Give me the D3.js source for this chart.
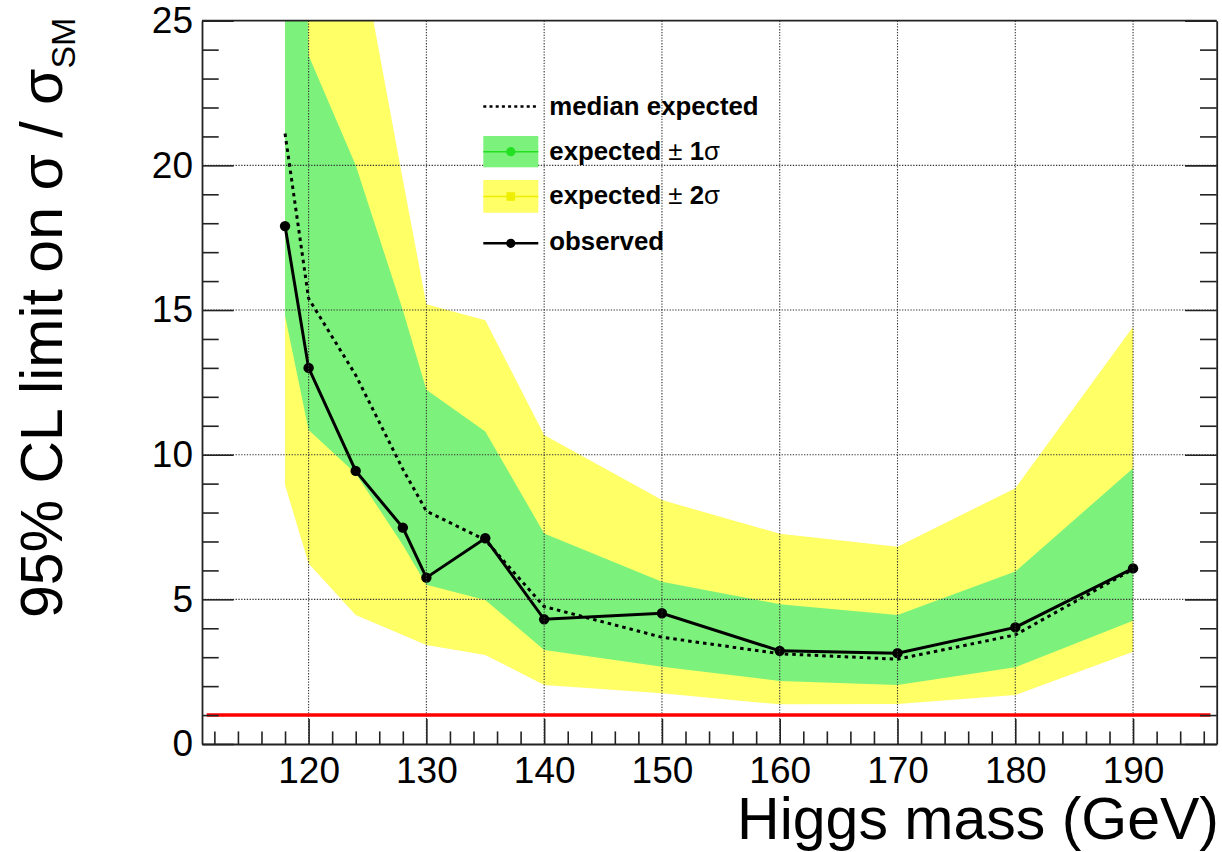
<!DOCTYPE html>
<html>
<head>
<meta charset="utf-8">
<script src="https://cdn.jsdelivr.net/npm/d3@7"></script>
<style>
  html, body { margin: 0; padding: 0; background: #fff; }
  svg { display: block; font-family: "Liberation Sans", Arial, Helvetica, sans-serif; }
</style>
</head>
<body>
<svg id="chart" width="1222" height="852"></svg>
<script>
// Higgs mass points (GeV)
const mass = [118, 120, 124, 128, 130, 135, 140, 150, 160, 170, 180, 190];
// 95% CL limits on sigma / sigma_SM
const observed = [17.9, 13.0, 9.44, 7.48, 5.75, 7.11, 4.31, 4.52, 3.22, 3.14, 4.03, 6.07];
const expected = [21.1, 15.4, 12.75, 9.5, 8.05, 7.05, 4.75, 3.69, 3.12, 2.93, 3.77, 6.04];
const oneSigmaLow  = [14.8, 10.85, 9.35, 6.88, 5.5, 4.98, 3.25, 2.67, 2.18, 2.04, 2.65, 4.26];
const oneSigmaHigh = [60, 23.8, 20.0, 15.0, 12.24, 10.8, 7.28, 5.61, 4.83, 4.46, 5.96, 9.53];
const twoSigmaLow  = [8.95, 6.24, 4.46, 3.77, 3.42, 3.08, 2.04, 1.75, 1.37, 1.38, 1.69, 3.19];
const twoSigmaHigh = [80, 40, 28.3, 19.5, 15.2, 14.65, 10.68, 8.43, 7.27, 6.82, 8.84, 14.42];

// SM reference line (sigma / sigma_SM = 1)
const smValue = 1;
const smRange = [111.35, 196.57];

// Axis ticks
const xMajorTicks = [120, 130, 140, 150, 160, 170, 180, 190];
const xMinorTicks = d3.range(112, 197, 2).filter(v => v % 10 !== 0);
const yMajorTicks = [0, 5, 10, 15, 20, 25];
const yMinorTicks = d3.range(1, 25).filter(v => v % 5 !== 0);

const svg = d3.select("#chart");
const frame = { left: 202, right: 1216.7, top: 20.7, bottom: 744 };

const x = d3.scaleLinear().domain([110.95, 197.1]).range([frame.left, frame.right]);
const y = d3.scaleLinear().domain([0, 25]).range([frame.bottom, frame.top]);

const GREEN = "#7cf27c";
const YELLOW = "#ffff66";

svg.append("rect").attr("width", 1222).attr("height", 852).attr("fill", "#fff");

svg.append("defs").append("clipPath").attr("id", "plotClip")
  .append("rect")
  .attr("x", frame.left).attr("y", frame.top)
  .attr("width", frame.right - frame.left).attr("height", frame.bottom - frame.top);

const plot = svg.append("g").attr("clip-path", "url(#plotClip)");

const rows = mass.map((m, i) => ({
  m, obs: observed[i], exp: expected[i],
  g0: oneSigmaLow[i], g1: oneSigmaHigh[i],
  y0: twoSigmaLow[i], y1: twoSigmaHigh[i]
}));

// ±2σ band
plot.append("path").datum(rows)
  .attr("fill", YELLOW)
  .attr("d", d3.area().x(d => x(d.m)).y0(d => y(d.y0)).y1(d => y(d.y1)));

// ±1σ band
plot.append("path").datum(rows)
  .attr("fill", GREEN)
  .attr("d", d3.area().x(d => x(d.m)).y0(d => y(d.g0)).y1(d => y(d.g1)));

// dotted grid
const grid = svg.append("g").attr("stroke", "#333").attr("stroke-width", 1.1)
  .attr("stroke-dasharray", "1.3,1.5");
grid.selectAll("line.gx").data(xMajorTicks).join("line")
  .attr("x1", d => x(d)).attr("x2", d => x(d))
  .attr("y1", frame.top).attr("y2", frame.bottom);
grid.selectAll("line.gy").data(yMajorTicks.filter(v => v > 0 && v < 25)).join("line")
  .attr("y1", d => y(d)).attr("y2", d => y(d))
  .attr("x1", frame.left).attr("x2", frame.right);

// SM line
svg.append("line")
  .attr("x1", x(smRange[0])).attr("x2", x(smRange[1]))
  .attr("y1", y(smValue)).attr("y2", y(smValue))
  .attr("stroke", "#ff0000").attr("stroke-width", 3.6);

// median expected
plot.append("path").datum(rows)
  .attr("fill", "none").attr("stroke", "#000").attr("stroke-width", 3)
  .attr("stroke-dasharray", "3.5,4")
  .attr("d", d3.line().x(d => x(d.m)).y(d => y(d.exp)));

// observed
plot.append("path").datum(rows)
  .attr("fill", "none").attr("stroke", "#000").attr("stroke-width", 3)
  .attr("d", d3.line().x(d => x(d.m)).y(d => y(d.obs)));
plot.selectAll("circle.obs").data(rows).join("circle")
  .attr("class", "obs")
  .attr("cx", d => x(d.m)).attr("cy", d => y(d.obs)).attr("r", 5.2)
  .attr("fill", "#000");

// axes
const axisColor = "#222";
function styleAxis(g) {
  g.selectAll("path.domain").attr("stroke", axisColor).attr("stroke-width", 1.8);
  g.selectAll(".tick line").attr("stroke", axisColor).attr("stroke-width", 1.6);
  g.selectAll(".tick text").attr("fill", "#000")
    .style("font-family", "'Liberation Sans', Arial, sans-serif").style("font-size", "37px");
}

// left
svg.append("g").attr("transform", `translate(${frame.left},0)`)
  .call(d3.axisLeft(y).tickValues(yMinorTicks).tickSize(-16.7).tickFormat(""))
  .call(g => g.select("path.domain").remove()).call(styleAxis);
svg.append("g").attr("transform", `translate(${frame.left},0)`)
  .call(d3.axisLeft(y).tickValues(yMajorTicks).tickSize(-31.7).tickSizeOuter(0).tickPadding(9).tickFormat(d3.format("d")))
  .call(styleAxis);

// right
svg.append("g").attr("transform", `translate(${frame.right},0)`)
  .call(d3.axisLeft(y).tickValues(yMinorTicks).tickSize(16.7).tickFormat(""))
  .call(g => g.select("path.domain").remove()).call(styleAxis);
svg.append("g").attr("transform", `translate(${frame.right},0)`)
  .call(d3.axisLeft(y).tickValues(yMajorTicks).tickSize(31.7).tickSizeOuter(0).tickFormat(""))
  .call(styleAxis);

// bottom
svg.append("g").attr("transform", `translate(0,${frame.bottom})`)
  .call(d3.axisBottom(x).tickValues(xMinorTicks).tickSize(-12.6).tickFormat(""))
  .call(g => g.select("path.domain").remove()).call(styleAxis);
svg.append("g").attr("transform", `translate(0,${frame.bottom})`)
  .call(d3.axisBottom(x).tickValues(xMajorTicks).tickSize(-25).tickSizeOuter(0).tickPadding(13).tickFormat(d3.format("d")))
  .call(styleAxis);

// top frame edge
svg.append("line")
  .attr("x1", frame.left).attr("x2", frame.right)
  .attr("y1", frame.top).attr("y2", frame.top)
  .attr("stroke", axisColor).attr("stroke-width", 1.8);

// axis titles
svg.append("text")
  .attr("x", 1219).attr("y", 839)
  .attr("text-anchor", "end")
  .style("font-size", "59px").attr("fill", "#000")
  .text("Higgs mass (GeV)");

const yTitle = svg.append("text")
  .attr("transform", "translate(61.5,618) rotate(-90)")
  .attr("text-anchor", "start")
  .style("font-size", "59px").attr("fill", "#000");
yTitle.append("tspan").text("95% CL limit on σ / σ");
yTitle.append("tspan").attr("dy", 13).style("font-size", "34px").text("SM");

// legend
const legend = svg.append("g").style("font-weight", "bold").style("font-size", "25.8px");
const lx0 = 483.3, lx1 = 538.3, lxm = 510.8, tx = 549.3;

// median expected
legend.append("line").attr("x1", lx0).attr("x2", lx1).attr("y1", 106.5).attr("y2", 106.5)
  .attr("stroke", "#000").attr("stroke-width", 2.4).attr("stroke-dasharray", "3,3.2");
legend.append("text").attr("x", tx).attr("y", 115).text("median expected");

// expected ±1σ
legend.append("rect").attr("x", lx0).attr("y", 136).attr("width", lx1 - lx0).attr("height", 31.3)
  .attr("fill", GREEN);
legend.append("line").attr("x1", lx0).attr("x2", lx1).attr("y1", 151.7).attr("y2", 151.7)
  .attr("stroke", "#22e022").attr("stroke-width", 1.5);
legend.append("circle").attr("cx", lxm).attr("cy", 151.7).attr("r", 4.6).attr("fill", "#22e022");
const t1 = legend.append("text").attr("x", tx).attr("y", 159.5);
t1.append("tspan").text("expected ");
t1.append("tspan").style("font-weight", "normal").text("±");
t1.append("tspan").text(" 1");
t1.append("tspan").style("font-weight", "normal").text("σ");

// expected ±2σ
legend.append("rect").attr("x", lx0).attr("y", 180).attr("width", lx1 - lx0).attr("height", 32.7)
  .attr("fill", YELLOW);
legend.append("line").attr("x1", lx0).attr("x2", lx1).attr("y1", 196.5).attr("y2", 196.5)
  .attr("stroke", "#eeee00").attr("stroke-width", 1.5);
legend.append("rect").attr("x", lxm - 4.3).attr("y", 196.5 - 4.3).attr("width", 8.6).attr("height", 8.6)
  .attr("fill", "#eeee00");
const t2 = legend.append("text").attr("x", tx).attr("y", 204);
t2.append("tspan").text("expected ");
t2.append("tspan").style("font-weight", "normal").text("±");
t2.append("tspan").text(" 2");
t2.append("tspan").style("font-weight", "normal").text("σ");

// observed
legend.append("line").attr("x1", lx0).attr("x2", lx1).attr("y1", 243.3).attr("y2", 243.3)
  .attr("stroke", "#000").attr("stroke-width", 2.6);
legend.append("circle").attr("cx", lxm).attr("cy", 243.3).attr("r", 4.6).attr("fill", "#000");
legend.append("text").attr("x", tx).attr("y", 249.5).text("observed");
</script>
</body>
</html>
